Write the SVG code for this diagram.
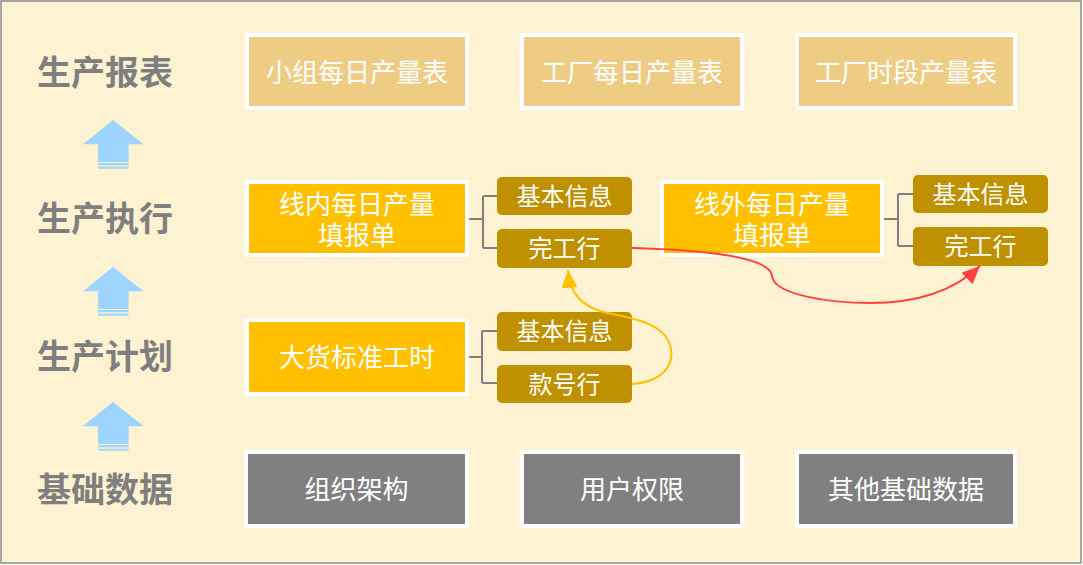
<svg xmlns="http://www.w3.org/2000/svg" width="1083" height="565" viewBox="0 0 1083 565">
<style>
.lbl{font-family:"Noto Sans CJK SC","Noto Sans",sans-serif;font-weight:bold;font-size:34px;fill:#7F7F7F;text-anchor:middle;dominant-baseline:central}
.bt{font-family:"Noto Sans CJK SC","Noto Sans",sans-serif;font-size:26px;fill:#FFFFFF;text-anchor:middle;dominant-baseline:central}
.st{font-family:"Noto Sans CJK SC","Noto Sans",sans-serif;font-size:24px;fill:#FFFFFF;text-anchor:middle;dominant-baseline:central}
.rep{fill:#EFCC84;stroke:#FFFFFF;stroke-width:4}
.exe{fill:#FFC000;stroke:#FFFFFF;stroke-width:4}
.base{fill:#808080;stroke:#FFFFFF;stroke-width:4}
.sub{fill:#BF9000}
.br{fill:none;stroke:#808080;stroke-width:2}
</style>
<defs>
<g id="uparrow">
<path d="M0,0 L30.5,24.3 L15.6,24.3 L15.6,42 L-15,42 L-15,24.3 L-30,24.3 Z" fill="#9DD5FF"/>
<rect x="-15" y="43" width="30.6" height="2.3" fill="#9DD5FF"/>
<rect x="-15" y="46.7" width="30.6" height="2" fill="#9DD5FF"/>
</g>
<marker id="ao" markerUnits="userSpaceOnUse" markerWidth="20" markerHeight="20" viewBox="0 0 20 20" refX="18" refY="10" orient="auto">
<path d="M0,2 L18,10 L0,18 Z" fill="#FFC000"/>
</marker>
<marker id="ar" markerUnits="userSpaceOnUse" markerWidth="20" markerHeight="20" viewBox="0 0 20 20" refX="18" refY="10" orient="auto">
<path d="M0,2 L18,10 L0,18 Z" fill="#FF4040"/>
</marker>
</defs>
<rect x="1" y="1" width="1080" height="562" fill="#FDF3D2" stroke="#8C8C8C" stroke-width="1.5"/>

<g id="layer-labels">
<text class="lbl" x="105" y="70">生产报表</text>
<text class="lbl" x="105" y="216">生产执行</text>
<text class="lbl" x="105" y="354">生产计划</text>
<text class="lbl" x="105" y="487">基础数据</text>
<use href="#uparrow" x="113" y="120"/>
<use href="#uparrow" x="113" y="267"/>
<use href="#uparrow" x="113" y="402"/>
</g>

<g id="n-report-group"><rect class="rep" x="247" y="35" width="220" height="73"/><text class="bt" x="357" y="70">小组每日产量表</text></g>
<g id="n-report-factory"><rect class="rep" x="522" y="35" width="220" height="73"/><text class="bt" x="632" y="70">工厂每日产量表</text></g>
<g id="n-report-period"><rect class="rep" x="797" y="35" width="218" height="73"/><text class="bt" x="906" y="70">工厂时段产量表</text></g>

<g id="n-inline"><rect class="exe" x="247" y="182" width="220" height="73"/><text class="bt" x="357" y="202">线内每日产量<tspan x="357" dy="31">填报单</tspan></text></g>
<g id="n-inline-basic"><rect class="sub" x="497" y="177" width="135" height="38" rx="5"/><text class="st" x="564.5" y="194">基本信息</text></g>
<g id="n-inline-done"><rect class="sub" x="497" y="229" width="135" height="39" rx="5"/><text class="st" x="564.5" y="246">完工行</text></g>

<g id="n-outline"><rect class="exe" x="662" y="182" width="220" height="73"/><text class="bt" x="772" y="202">线外每日产量<tspan x="772" dy="31">填报单</tspan></text></g>
<g id="n-outline-basic"><rect class="sub" x="913" y="175" width="135" height="38" rx="5"/><text class="st" x="980.5" y="192">基本信息</text></g>
<g id="n-outline-done"><rect class="sub" x="913" y="227" width="135" height="39" rx="5"/><text class="st" x="980.5" y="244">完工行</text></g>

<g id="n-std"><rect class="exe" x="247" y="320" width="220" height="74"/><text class="bt" x="357" y="355">大货标准工时</text></g>
<g id="n-std-basic"><rect class="sub" x="497" y="312" width="135" height="39" rx="5"/><text class="st" x="564.5" y="329">基本信息</text></g>
<g id="n-std-style"><rect class="sub" x="497" y="365" width="135" height="38" rx="5"/><text class="st" x="564.5" y="382">款号行</text></g>

<g id="n-org"><rect class="base" x="246" y="452" width="221" height="74"/><text class="bt" x="356.5" y="487">组织架构</text></g>
<g id="n-perm"><rect class="base" x="522" y="452" width="220" height="74"/><text class="bt" x="632" y="487">用户权限</text></g>
<g id="n-other"><rect class="base" x="797" y="452" width="218" height="74"/><text class="bt" x="906" y="487">其他基础数据</text></g>

<g id="connectors">
<path class="br" d="M469,219 H483 M483,196 V248 M483,196 H497 M483,248 H497"/>
<path class="br" d="M469,357 H482 M482,331 V383 M482,331 H497 M482,383 H497"/>
<path class="br" d="M884,219 H898 M898,194 V246 M898,194 H913 M898,246 H913"/>
<path d="M632,384 C662,382 676,365 670,345 C663,322 630,318 603,312 C582,306 570,294 568,270" fill="none" stroke="#FFC000" stroke-width="2" marker-end="url(#ao)"/>
<path d="M632,248 C700,250 770,256 772,276 C774,295 830,303 870,303 C920,303 955,290 980,266" fill="none" stroke="#FF4040" stroke-width="2" marker-end="url(#ar)"/>
</g>
</svg>
